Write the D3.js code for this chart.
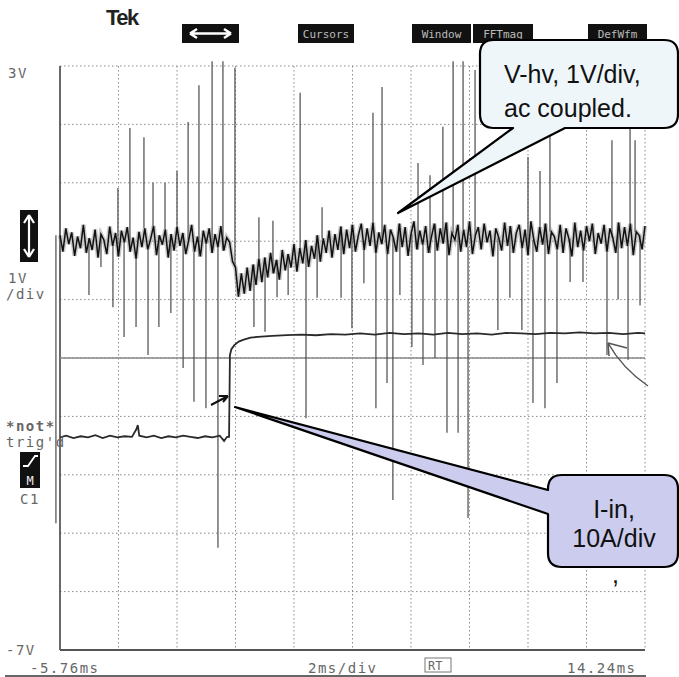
<!DOCTYPE html>
<html>
<head>
<meta charset="utf-8">
<script src="https://cdn.jsdelivr.net/npm/d3@7"></script>
<style>
  body { margin: 0; background: #fff; }
  svg { display: block; }
  .scope { font-family: "DejaVu Sans Mono", monospace; fill: #666; }
  .callout { font-family: "Liberation Sans", Arial, sans-serif; fill: #111; }
</style>
</head>
<body>
<div id="chart"></div>
<script>
// scope settings
const timeRange = [-5.76, 14.24];   // ms
const voltRange = [-7, 3];          // V, 1V/div
const refLevel = -2;                // solid marker line

// V-hv trace, one sample every 0.1 ms from -5.76 ms
const hvStart = -5.76, hvStep = 0.1;
const hvTrace = [
  0.10, -0.18, 0.22, -0.05, 0.15, -0.25, 0.08, -0.12, 0.28, -0.20,
  0.05, -0.15, 0.20, -0.28, 0.12, 0.02, -0.22, 0.25, -0.08, 0.14,
  -0.26, 0.18, -0.02, 0.24, -0.18, 0.06, -0.30, 0.16, -0.10, 0.22,
  -0.14, 0.04, 0.26, -0.24, 0.10, -0.06, 0.20, -0.28, 0.12, -0.16,
  0.24, -0.08, 0.14, -0.22, 0.02, 0.28, -0.18, 0.08, -0.26, 0.18,
  -0.04, 0.22, -0.20, 0.12, -0.10, 0.26, -0.16, 0.06,
  -0.02,
  -0.35, -0.45, -0.95, -0.55, -0.90, -0.45, -0.85, -0.40, -0.75, -0.30,
  -0.70, -0.28, -0.62, -0.20, -0.55, -0.32, -0.66, -0.15, -0.50, -0.22,
  -0.45, -0.05, -0.52, -0.12, -0.38, 0.02, -0.44, -0.08, -0.30, 0.10,
  -0.35, 0.05, -0.20, 0.18, -0.28, 0.12, -0.15, 0.25, -0.22, 0.20,
  -0.12, 0.28, -0.18, 0.10, 0.30, -0.15, 0.22, -0.08, 0.32, -0.20,
  0.15, -0.05, 0.28, -0.22, 0.20, 0.05, -0.18, 0.30, -0.10, 0.24,
  -0.25, 0.12, 0.34, -0.14, 0.18, -0.06, 0.26, -0.20, 0.08, 0.30,
  -0.16, 0.22, -0.04, 0.32, -0.24, 0.14, 0.02, 0.28, -0.18, 0.20,
  -0.10, 0.34, -0.22, 0.10, 0.24, -0.14, 0.30, -0.02, 0.18, -0.26,
  0.22, 0.06, -0.16, 0.32, -0.08, 0.26, -0.20, 0.14, 0.28, -0.12,
  0.20, -0.24, 0.34, 0.02, -0.18, 0.24, -0.06, 0.30, -0.22, 0.16,
  0.08, -0.14, 0.28, -0.20, 0.22, 0.04, -0.26, 0.32, -0.10, 0.18,
  -0.16, 0.26, 0.00, 0.30, -0.22, 0.14, -0.04, 0.28, -0.18, 0.22,
  0.06, -0.20, 0.32, -0.12, 0.24, -0.08, 0.30, -0.24, 0.16, 0.10,
  -0.14, 0.26
];

// spikes on V-hv: time (ms) and tip (V)
const spikeT = [
  -5.90, -4.77, -4.36, -3.95, -3.78, -3.57, -3.37, -3.16, -2.89, -2.75,
  -2.58, -2.38, -2.17, -1.97, -1.76, -1.55, -1.38, -1.18, -1.01, -0.77,
  -0.56, -0.36, -0.19, 0.22, 0.87, 1.04, 1.25, 1.52, 1.66, 2.04,
  2.45, 2.65, 3.03, 3.20, 3.85, 4.22, 4.63, 4.94, 5.04, 5.25,
  5.42, 5.62, 5.86, 6.27, 6.48, 6.65, 6.89, 7.06, 7.33, 7.47,
  7.68, 7.85, 8.02, 8.19, 8.43, 9.21, 9.62, 10.03, 10.24, 10.41,
  10.65, 10.82, 10.99, 11.23, 11.68, 12.12, 12.94, 13.11, 13.32, 13.66,
  13.73, 13.90, 14.07
];
const spikeV = [
  -4.83, -0.92, -0.44, -1.13, 0.91, -1.64, 1.94, -1.47, 1.78, -1.95,
  1.00, -1.47, 1.00, -1.23, 1.20, -2.17, 2.04, -2.75, 2.67, -2.86,
  3.08, -5.25, 3.08, 2.97, -1.47, 0.41, -1.55, 0.35, -0.96, -0.92,
  2.54, -3.03, -0.97, 0.58, -0.97, -1.49, -0.72, 2.20, -2.86, 2.64,
  -2.43, -4.43, -0.92, -1.81, 1.34, -2.12, 1.13, -2.00, 1.96, -3.28,
  3.08, -3.28, 3.08, -4.74, 2.93, -1.52, -0.97, -1.52, 1.44, -2.77,
  1.20, -2.86, 1.99, -2.43, -0.70, -0.70, -1.95, 1.73, -1.00, -2.03,
  2.30, 1.73, -1.10
];

// I-in trace (10A/div), plotted in screen divisions
const inT = [
  -5.76, -5.55, -5.30, -5.05, -4.80, -4.55, -4.30, -4.05, -3.80, -3.55,
  -3.30, -3.15, -3.10, -3.05, -2.80, -2.55, -2.30, -2.05, -1.80, -1.55,
  -1.30, -1.05, -0.80, -0.55, -0.30, -0.15, -0.05, 0.02, 0.05, 0.10,
  0.20, 0.35, 0.50, 0.75, 1.00, 1.50, 2.00, 2.50, 3.00, 3.50,
  4.00, 4.50, 5.00, 5.50, 6.00, 6.50, 7.00, 7.50, 8.00, 8.50,
  9.00, 9.50, 10.00, 10.50, 11.00, 11.50, 12.00, 12.50, 13.00, 13.50,
  14.00, 14.24
];
const inV = [
  -3.36, -3.33, -3.37, -3.34, -3.36, -3.32, -3.37, -3.33, -3.36, -3.34,
  -3.35, -3.22, -3.15, -3.33, -3.36, -3.33, -3.37, -3.34, -3.36, -3.33,
  -3.35, -3.37, -3.34, -3.36, -3.33, -3.42, -3.35, -3.35, -1.95, -1.85,
  -1.78, -1.72, -1.69, -1.65, -1.64, -1.62, -1.61, -1.60, -1.61, -1.59,
  -1.60, -1.58, -1.60, -1.57, -1.59, -1.58, -1.60, -1.57, -1.59, -1.58,
  -1.60, -1.57, -1.58, -1.59, -1.57, -1.58, -1.56, -1.58, -1.57, -1.59,
  -1.57, -1.58
];

const menuLabels = ["", "Cursors", "Window", "FFTmag", "DefWfm"];
const menuX = [182, 298, 412, 473, 588];
const menuW = [57, 56, 59, 60, 59];

const W = 679, H = 677;
const svg = d3.select("#chart").append("svg").attr("width", W).attr("height", H);

const x = d3.scaleLinear().domain(timeRange).range([60, 645]);
const y = d3.scaleLinear().domain(voltRange).range([650, 66]);

// graticule
const grid = svg.append("g").attr("stroke", "#8a8a8a").attr("stroke-width", 1)
  .attr("stroke-dasharray", "1.5,2.5");
grid.selectAll("line.v").data(d3.range(1, 11)).join("line")
  .attr("x1", i => x(timeRange[0] + i * 2)).attr("x2", i => x(timeRange[0] + i * 2))
  .attr("y1", y(3)).attr("y2", y(-7));
grid.selectAll("line.h").data(d3.range(-6, 4)).join("line")
  .attr("y1", v => y(v)).attr("y2", v => y(v))
  .attr("x1", x(timeRange[0])).attr("x2", x(timeRange[1]));

svg.append("line").attr("x1", x(timeRange[0])).attr("x2", x(timeRange[0]))
  .attr("y1", y(3)).attr("y2", y(-7)).attr("stroke", "#444").attr("stroke-width", 1.6);
svg.append("line").attr("x1", x(timeRange[0])).attr("x2", x(timeRange[1]))
  .attr("y1", y(-7)).attr("y2", y(-7)).attr("stroke", "#555").attr("stroke-width", 2);

// reference marker line
svg.append("line").attr("x1", x(timeRange[0])).attr("x2", x(timeRange[1]))
  .attr("y1", y(refLevel)).attr("y2", y(refLevel)).attr("stroke", "#888").attr("stroke-width", 1.3);

// spikes
const hvAt = t => hvTrace[Math.max(0, Math.min(hvTrace.length - 1, Math.round((t - hvStart) / hvStep)))];
svg.append("g").selectAll("line").data(spikeT).join("line")
  .attr("x1", t => x(t)).attr("x2", t => x(t))
  .attr("y1", t => y(hvAt(t)))
  .attr("y2", (t, i) => y(spikeV[i]))
  .attr("stroke", "#4a4a4a").attr("stroke-width", 1.5).attr("stroke-opacity", 0.8);

// V-hv trace
const hvLine = d3.line().x((d, i) => x(hvStart + i * hvStep)).y(d => y(d));
svg.append("path").attr("d", hvLine(hvTrace)).attr("fill", "none")
  .attr("stroke", "#888").attr("stroke-width", 4.5).attr("stroke-opacity", 0.45);
svg.append("path").attr("d", hvLine(hvTrace)).attr("fill", "none")
  .attr("stroke", "#111").attr("stroke-width", 1.5);

// I-in trace
const inLine = d3.line().x(d => x(d[0])).y(d => y(d[1]));
svg.append("path").attr("d", inLine(inT.map((t, i) => [t, inV[i]]))).attr("fill", "none")
  .attr("stroke", "#2a2a2a").attr("stroke-width", 1.8);

// trigger arrow and gray curved arrow
svg.append("path").attr("d", "M211,405 L228,396 M228,396 L219,396 M228,396 L223,402")
  .attr("stroke", "#111").attr("stroke-width", 2).attr("fill", "none");
svg.append("path").attr("d", "M648,386 Q622,368 608,343 M608,343 L627,348 M608,343 L609,356")
  .attr("stroke", "#555").attr("stroke-width", 1.5).attr("fill", "none");

// header
svg.append("text").attr("x", 106).attr("y", 25).text("Tek")
  .style("font-family", "Liberation Sans, Arial, sans-serif").style("font-weight", "bold")
  .style("font-size", "22px").style("letter-spacing", "-1.5px").attr("fill", "#222");
const menu = svg.append("g");
menu.selectAll("rect").data(menuLabels).join("rect")
  .attr("x", (d, i) => menuX[i]).attr("y", 24).attr("width", (d, i) => menuW[i]).attr("height", 19)
  .attr("fill", "#111");
menu.selectAll("text").data(menuLabels).join("text")
  .attr("x", (d, i) => menuX[i] + menuW[i] / 2).attr("y", 38).attr("text-anchor", "middle")
  .attr("fill", "#bbb").style("font-family", "DejaVu Sans Mono, monospace").style("font-size", "11px")
  .text(d => d);
svg.append("path").attr("d", "M190,33.5 H231 M190,33.5 L197,29 M190,33.5 L197,38 M231,33.5 L224,29 M231,33.5 L224,38")
  .attr("stroke", "#fff").attr("stroke-width", 2.5).attr("fill", "none");

// left side readouts
const lab = (tx, ty, s) => svg.append("text").attr("class", "scope")
  .attr("x", tx).attr("y", ty).style("font-size", "14px").style("letter-spacing", "1.5px").text(s);
lab(8, 78, "3V");
lab(8, 283, "1V");
lab(6, 299, "/div");
lab(6, 431, "*not*").style("font-weight", "bold").attr("fill", "#333");
lab(6, 447, "trig'd");
lab(20, 504, "C1");
lab(6, 655, "-7V");
lab(30, 673, "-5.76ms");
lab(308, 673, "2ms/div");
lab(567, 673, "14.24ms");
svg.append("rect").attr("x", 425).attr("y", 658).attr("width", 26).attr("height", 14)
  .attr("fill", "none").attr("stroke", "#777").attr("stroke-width", 1);
lab(428, 670, "RT").style("font-size", "12px").style("letter-spacing", "0px");
svg.append("line").attr("x1", 5).attr("x2", 646).attr("y1", 676).attr("y2", 676)
  .attr("stroke", "#333").attr("stroke-width", 1.5);

// icons
svg.append("rect").attr("x", 20).attr("y", 210).attr("width", 18).attr("height", 52).attr("fill", "#111");
svg.append("path").attr("d", "M29,215 V257 M29,215 L24,223 M29,215 L34,223 M29,257 L24,249 M29,257 L34,249")
  .attr("stroke", "#fff").attr("stroke-width", 2.2).attr("fill", "none");
svg.append("rect").attr("x", 20).attr("y", 452).attr("width", 20).attr("height", 36).attr("fill", "#111");
svg.append("path").attr("d", "M23,466 H28 L35,456 H38")
  .attr("stroke", "#fff").attr("stroke-width", 1.8).attr("fill", "none");
svg.append("text").attr("x", 30).attr("y", 485).attr("text-anchor", "middle").attr("fill", "#eee")
  .style("font-family", "DejaVu Sans Mono, monospace").style("font-size", "12px").text("M");

// callouts
function callout(box, tail, fill) {
  const [x0, y0, x1, y1] = box, r = 14;
  let d;
  if (tail.side === "bottom") {
    d = `M${x0 + r},${y0} H${x1 - r} Q${x1},${y0} ${x1},${y0 + r} V${y1 - r} Q${x1},${y1} ${x1 - r},${y1}` +
        ` H${tail.b} L${tail.tip[0]},${tail.tip[1]} L${tail.a},${y1} H${x0 + r} Q${x0},${y1} ${x0},${y1 - r}` +
        ` V${y0 + r} Q${x0},${y0} ${x0 + r},${y0} Z`;
  } else {
    d = `M${x0 + r},${y0} H${x1 - r} Q${x1},${y0} ${x1},${y0 + r} V${y1 - r} Q${x1},${y1} ${x1 - r},${y1}` +
        ` H${x0 + r} Q${x0},${y1} ${x0},${y1 - r} V${tail.b} L${tail.tip[0]},${tail.tip[1]} L${x0},${tail.a}` +
        ` V${y0 + r} Q${x0},${y0} ${x0 + r},${y0} Z`;
  }
  svg.append("path").attr("d", d).attr("fill", fill).attr("stroke", "#000")
    .attr("stroke-width", 2.2).attr("stroke-linejoin", "round");
}
callout([480, 40, 678, 128], { side: "bottom", a: 513, b: 565, tip: [398, 213] }, "#eef6fa");
callout([548, 475, 678, 567], { side: "left", a: 490, b: 514, tip: [235, 407] }, "#ccccee");

const ct = (tx, ty, s, anchor) => svg.append("text").attr("class", "callout")
  .attr("x", tx).attr("y", ty).attr("text-anchor", anchor || "start").style("font-size", "25px").text(s);
ct(504, 83, "V-hv, 1V/div,");
ct(504, 117, "ac coupled.");
ct(614, 518, "I-in,", "middle");
ct(614, 547, "10A/div", "middle");
ct(612, 583, ",");
</script>
</body>
</html>
